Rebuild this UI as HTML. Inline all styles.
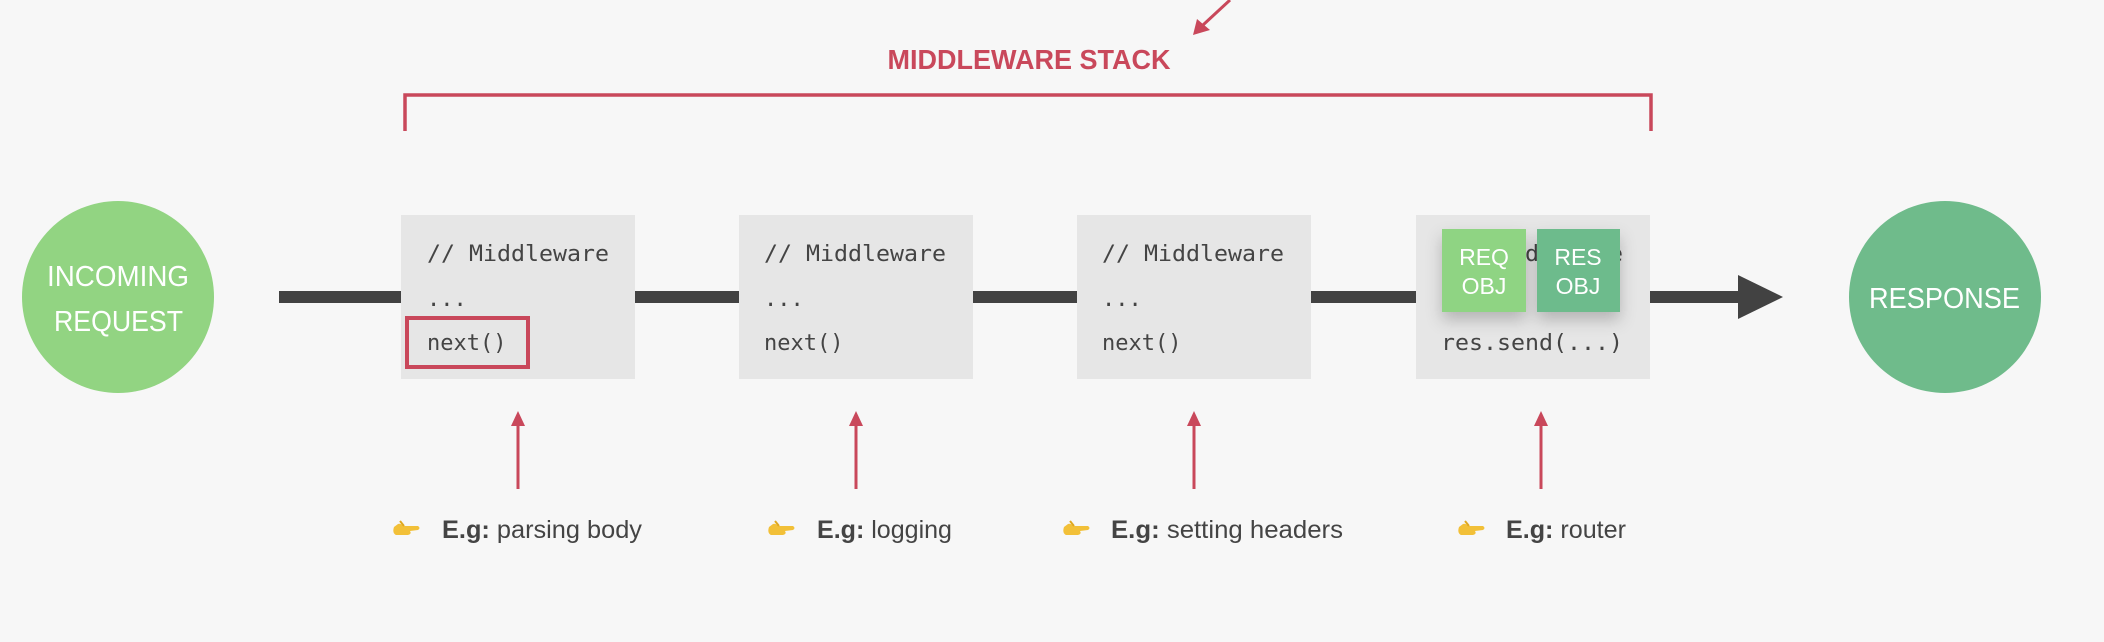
<!DOCTYPE html>
<html><head><meta charset="utf-8"><style>
html,body{margin:0;padding:0;background:#f7f7f7;}
svg{display:block}
.mono{font-family:"DejaVu Sans Mono","Liberation Mono",monospace;font-size:22px;fill:#444}
.lbl{font-family:"Liberation Sans",sans-serif;font-size:25px;fill:#444}
</style></head><body>
<svg width="2104" height="642" viewBox="0 0 2104 642" xmlns="http://www.w3.org/2000/svg">
<defs>
<filter id="sh" x="-30%" y="-30%" width="160%" height="170%"><feDropShadow dx="0" dy="8" stdDeviation="8" flood-color="#000" flood-opacity="0.22"/></filter>
<g id="hand"><path d="M2 6 Q0 12 4 14 L16 14 Q20 13 18 10 L26 9 Q29 7 26 5 L12 5 Q8 2 6 3 Z" fill="#f2c038"/><path d="M12 5 L8 0" stroke="#e0a820" stroke-width="2"/></g>
</defs>
<rect width="2104" height="642" fill="#f7f7f7"/>
<!-- top arrow -->
<line x1="1230" y1="0" x2="1203" y2="25" stroke="#c9485b" stroke-width="3"/>
<polygon points="1193,35 1197,19 1210,30" fill="#c9485b"/>
<text x="1029" y="69" text-anchor="middle" font-family="'Liberation Sans',sans-serif" font-weight="bold" font-size="28" fill="#c9485b" textLength="283" lengthAdjust="spacingAndGlyphs">MIDDLEWARE STACK</text>
<!-- bracket -->
<polyline points="405,131 405,95 1651,95 1651,131" fill="none" stroke="#c9485b" stroke-width="3.5"/>
<!-- main line -->
<rect x="279" y="291" width="1462" height="12" fill="#424242"/>
<polygon points="1738,275 1783,297 1738,319" fill="#424242"/>
<!-- circles -->
<circle cx="118" cy="297" r="96" fill="#92d482"/>
<text x="47" y="286" font-family="'Liberation Sans',sans-serif" font-size="29" fill="#fff" textLength="142" lengthAdjust="spacingAndGlyphs">INCOMING</text>
<text x="54" y="331" font-family="'Liberation Sans',sans-serif" font-size="29" fill="#fff" textLength="129" lengthAdjust="spacingAndGlyphs">REQUEST</text>
<circle cx="1945" cy="297" r="96" fill="#6fbb8b"/>
<text x="1869" y="308" font-family="'Liberation Sans',sans-serif" font-size="29" fill="#fff" textLength="151" lengthAdjust="spacingAndGlyphs">RESPONSE</text>
<!-- boxes -->
<rect x="401" y="215" width="234" height="164" fill="#e6e6e6"/>
<rect x="739" y="215" width="234" height="164" fill="#e6e6e6"/>
<rect x="1077" y="215" width="234" height="164" fill="#e6e6e6"/>
<rect x="1416" y="215" width="234" height="164" fill="#e6e6e6"/>
<g class="mono">
<text x="427" y="261" textLength="182" lengthAdjust="spacingAndGlyphs">// Middleware</text>
<text x="427" y="306">...</text>
<text x="427" y="350">next()</text>
<text x="764" y="261" textLength="182" lengthAdjust="spacingAndGlyphs">// Middleware</text>
<text x="764" y="306">...</text>
<text x="764" y="350">next()</text>
<text x="1102" y="261" textLength="182" lengthAdjust="spacingAndGlyphs">// Middleware</text>
<text x="1102" y="306">...</text>
<text x="1102" y="350">next()</text>
<text x="1441" y="261" textLength="182" lengthAdjust="spacingAndGlyphs">// Middleware</text>
<text x="1441" y="350" textLength="182" lengthAdjust="spacingAndGlyphs">res.send(...)</text>
</g>
<rect x="407" y="318" width="121" height="49" fill="none" stroke="#c9485b" stroke-width="4"/>
<!-- REQ/RES -->
<g filter="url(#sh)">
<rect x="1442" y="229" width="84" height="83" fill="#8fd483"/>
<rect x="1537" y="229" width="83" height="83" fill="#6dbb8c"/>
</g>
<g font-family="'Liberation Sans',sans-serif" font-size="23" fill="#fff" text-anchor="middle">
<text x="1484" y="265">REQ</text><text x="1484" y="294">OBJ</text>
<text x="1578" y="265">RES</text><text x="1578" y="294">OBJ</text>
</g>
<!-- red arrows -->
<g stroke="#c9485b" stroke-width="3">
<line x1="518" y1="489" x2="518" y2="420"/><line x1="856" y1="489" x2="856" y2="420"/>
<line x1="1194" y1="489" x2="1194" y2="420"/><line x1="1541" y1="489" x2="1541" y2="420"/>
</g>
<g fill="#c9485b">
<polygon points="518,411 511,426 525,426"/><polygon points="856,411 849,426 863,426"/>
<polygon points="1194,411 1187,426 1201,426"/><polygon points="1541,411 1534,426 1548,426"/>
</g>
<!-- labels -->
<use href="#hand" x="392" y="521"/><use href="#hand" x="767" y="521"/>
<use href="#hand" x="1062" y="521"/><use href="#hand" x="1457" y="521"/>
<g class="lbl">
<text x="442" y="538" textLength="200" lengthAdjust="spacingAndGlyphs"><tspan font-weight="bold">E.g:</tspan> parsing body</text>
<text x="817" y="538" textLength="135" lengthAdjust="spacingAndGlyphs"><tspan font-weight="bold">E.g:</tspan> logging</text>
<text x="1111" y="538" textLength="232" lengthAdjust="spacingAndGlyphs"><tspan font-weight="bold">E.g:</tspan> setting headers</text>
<text x="1506" y="538" textLength="120" lengthAdjust="spacingAndGlyphs"><tspan font-weight="bold">E.g:</tspan> router</text>
</g>
</svg>
</body></html>
